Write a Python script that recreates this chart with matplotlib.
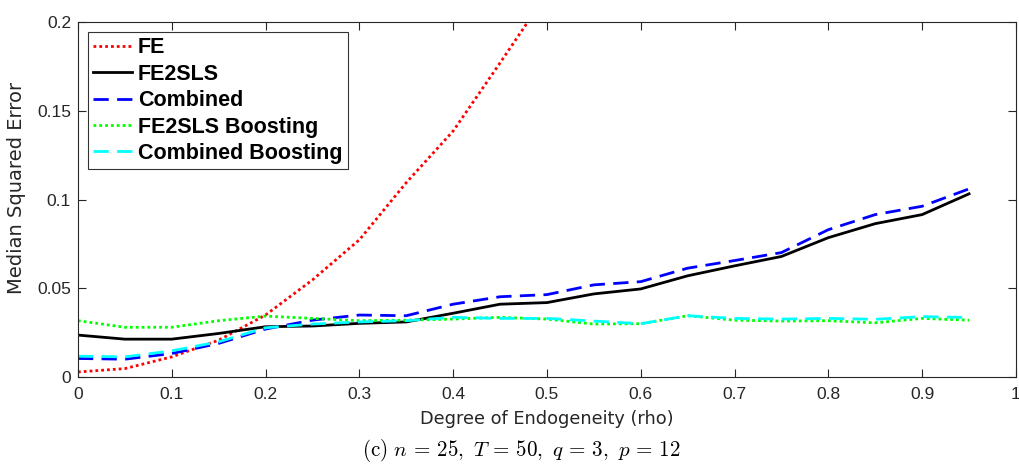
import matplotlib
matplotlib.use("Agg")
import matplotlib.pyplot as plt
import numpy as np

rho = [0, 0.05, 0.1, 0.15, 0.2, 0.25, 0.3, 0.35, 0.4, 0.45, 0.5, 0.55, 0.6, 0.65, 0.7, 0.75, 0.8, 0.85, 0.9, 0.95]

fe = [0.0028, 0.0047, 0.0113, 0.0207, 0.0349, 0.0547, 0.0773, 0.1095, 0.1386, 0.177, 0.216,
      0.26, 0.31, 0.36, 0.42, 0.48, 0.54, 0.61, 0.68, 0.76]
fe2sls = [0.0236, 0.0213, 0.0213, 0.0245, 0.0283, 0.0287, 0.0302, 0.031, 0.0359, 0.041, 0.0419,
          0.0468, 0.0496, 0.057, 0.0626, 0.0679, 0.0785, 0.0864, 0.0915, 0.1032]
combined = [0.0104, 0.0100, 0.0132, 0.0189, 0.027, 0.032, 0.0349, 0.0345, 0.041, 0.0452, 0.0464,
            0.0519, 0.0537, 0.0613, 0.0656, 0.0701, 0.083, 0.0915, 0.0962, 0.106]
fe2sls_boost = [0.0317, 0.028, 0.028, 0.0317, 0.0343, 0.033, 0.0317, 0.032, 0.0326, 0.0336, 0.0326,
                0.0298, 0.030, 0.0345, 0.032, 0.0315, 0.0317, 0.0305, 0.033, 0.032]
combined_boost = [0.0117, 0.0113, 0.0147, 0.0198, 0.0277, 0.0298, 0.031, 0.0317, 0.0336, 0.033, 0.033,
                  0.0315, 0.030, 0.0345, 0.033, 0.0326, 0.033, 0.0325, 0.034, 0.0335]

labels = ["FE", "FE2SLS", "Combined", "FE2SLS Boosting", "Combined Boosting"]
xticks = [0, 0.1, 0.2, 0.3, 0.4, 0.5, 0.6, 0.7, 0.8, 0.9, 1]
xticklabels = ["0", "0.1", "0.2", "0.3", "0.4", "0.5", "0.6", "0.7", "0.8", "0.9", "1"]
yticks = [0, 0.05, 0.1, 0.15, 0.2]
yticklabels = ["0", "0.05", "0.1", "0.15", "0.2"]

plt.rcParams['font.family'] = ['Liberation Sans', 'DejaVu Sans']
plt.rcParams['mathtext.fontset'] = 'cm'

fig = plt.figure(figsize=(10.19, 4.70), dpi=100)
ax = fig.add_axes([0.0765, 0.198, 0.9205, 0.755])

lw = 2.0
ax.plot(rho, fe, color='#ff0000', lw=lw, linestyle=(0, (1, 1.1)), label=labels[0])
ax.plot(rho, fe2sls, color='#000000', lw=lw, linestyle='-', label=labels[1])
ax.plot(rho, combined, color='#0000ff', lw=lw, linestyle=(0, (5.5, 3)), label=labels[2])
ax.plot(rho, fe2sls_boost, color='#00ff00', lw=lw, linestyle=(0, (1, 1.1)), label=labels[3])
ax.plot(rho, combined_boost, color='#00ffff', lw=lw, linestyle=(0, (5.5, 3)), label=labels[4])

ax.set_xlim(0, 1)
ax.set_ylim(0, 0.2)
ax.set_xticks(xticks)
ax.set_xticklabels(xticklabels)
ax.set_yticks(yticks)
ax.set_yticklabels(yticklabels)
axcol = '#262626'
ax.tick_params(direction='in', top=True, right=True, length=6, width=0.8,
               labelsize=12.5, colors=axcol)
ax.tick_params(axis='x', pad=7)
ax.tick_params(axis='y', pad=5)
for s in ax.spines.values():
    s.set_color(axcol)
    s.set_linewidth(0.8)

ax.set_xlabel("Degree of Endogeneity (rho)", fontsize=12.8, color=axcol, labelpad=6,
              family='DejaVu Sans')
fig.text(17 / 1019, 1 - 188 / 470, "Median Squared Error", fontsize=14, color=axcol,
         family='DejaVu Sans', rotation=90, ha='center', va='center')

leg = ax.legend(loc='upper left', bbox_to_anchor=(0.0108, 0.972),
                prop={'weight': 'bold', 'size': 15.5, 'family': 'Liberation Sans'},
                frameon=True, fancybox=False, edgecolor='#000000', handlelength=1.8,
                handletextpad=0.27, borderpad=0.25, labelspacing=0.25, borderaxespad=0)
leg.get_frame().set_linewidth(0.8)

fig.text(0.512, 1 - 450 / 470,
         r"$\mathrm{(c)}\ n\,=\,25,\ T\,=\,50,\ q\,=\,3,\ p\,=\,12$",
         ha='center', va='center', fontsize=15.2)

fig.savefig("out.png", dpi=100)
